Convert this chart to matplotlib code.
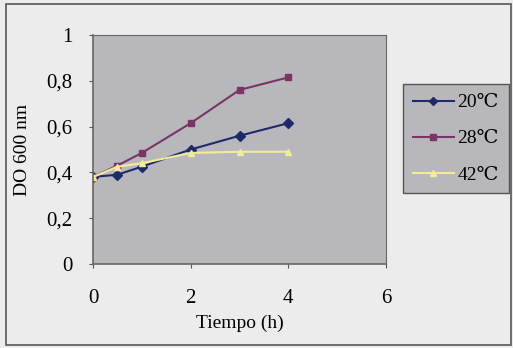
import matplotlib
matplotlib.use('Agg')
import matplotlib.pyplot as plt
from matplotlib.patches import Rectangle

plt.rcParams['font.family'] = ['Liberation Serif', 'DejaVu Serif']

tiempo = [0, 0.5, 1, 2, 3, 4]
do_20 = [0.38, 0.39, 0.425, 0.50, 0.56, 0.615]
do_28 = [0.38, 0.43, 0.485, 0.615, 0.76, 0.815]
do_42 = [0.38, 0.425, 0.44, 0.485, 0.49, 0.49]
labels = ['20\u2103', '28\u2103', '42\u2103']
colors = ['#1f2a6b', '#7a3466', '#f2ec9a']
markers = ['D', 's', '^']

W, H = 513, 348
fig = plt.figure(figsize=(W / 100, H / 100), dpi=100)
fig.patch.set_facecolor('#ececec')
# outer frame
fig.patches.append(Rectangle((6 / W, 3 / H), 505 / W, 341 / H, transform=fig.transFigure,
                             fill=False, edgecolor='#555555', lw=1.2))

ax = fig.add_axes([93 / W, 1 - 264 / H, (386 - 93) / W, (264 - 35) / H])
ax.set_facecolor('#b8b8bc')
series = [do_20, do_28, do_42]
for vals, lab, c, m in zip(series, labels, colors, markers):
    ax.plot(tiempo, vals, color=c, marker=m, markersize=5, lw=1.5, label=lab,
            markeredgecolor=c)

ax.set_xlim(0, 6)
ax.set_ylim(0, 1)
ax.set_xticks([0, 2, 4, 6])
ax.set_yticks([0, 0.2, 0.4, 0.6, 0.8, 1])
ax.set_yticklabels(['0', '0,2', '0,4', '0,6', '0,8', '1'])
ax.tick_params(labelsize=15, length=3, color='#555555')
ax.tick_params(axis='x', pad=15)
ax.tick_params(axis='y', pad=12)
for s in ['top', 'right']:
    ax.spines[s].set_color('#666666')
    ax.spines[s].set_linewidth(0.8)
for s in ['left', 'bottom']:
    ax.spines[s].set_color('#666666')
    ax.spines[s].set_linewidth(1.2)
ax.set_xlabel('Tiempo (h)', fontsize=14, labelpad=5)
ax.set_ylabel('DO 600 nm', fontsize=14, labelpad=11)

leg = ax.legend(loc='upper left', bbox_to_anchor=(403 / W, 1 - 84 / H),
                bbox_transform=fig.transFigure, fontsize=14,
                frameon=True, fancybox=False, handlelength=2.1, labelspacing=0.95,
                borderpad=0.5, borderaxespad=0, handletextpad=0.2, markerscale=0.9)
leg.get_frame().set_facecolor('#b8b8bc')
leg.get_frame().set_edgecolor('#555555')
leg.get_frame().set_alpha(1)

plt.savefig('out.png', dpi=100, facecolor=fig.get_facecolor())
